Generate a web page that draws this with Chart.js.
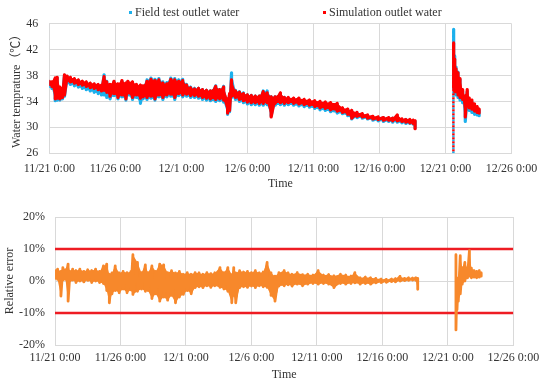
<!DOCTYPE html>
<html><head><meta charset="utf-8">
<script src="https://cdn.jsdelivr.net/npm/chart.js@4"></script>
<style>
html,body{margin:0;padding:0;background:#fff;}
#wrap{position:relative;width:550px;height:389px;overflow:hidden;background:#fff;}
canvas{position:absolute;left:0;}
#c1{top:0}
#c2{top:195px}
.lg{position:absolute;top:5px;font:12px 'Liberation Serif','Times New Roman',serif;color:#333;line-height:14px;white-space:nowrap}
.mk{position:absolute;width:3px;height:3px;top:11px}
</style></head>
<body><div id="wrap">
<canvas id="c1" width="550" height="195"></canvas>
<canvas id="c2" width="550" height="194"></canvas>
<div class="mk" style="left:129px;background:#1CB0EC"></div>
<div class="lg" style="left:135px">Field test outlet water</div>
<div class="mk" style="left:323px;background:#FF0000"></div>
<div class="lg" style="left:329px">Simulation outlet water</div>
</div>
<script>
// x-axis tick labels (one every 5 days from 11/21 0:00)
const timeTickLabels = ['11/21 0:00','11/26 0:00','12/1 0:00','12/6 0:00','12/11 0:00','12/16 0:00','12/21 0:00','12/26 0:00'];

// sample times, days after 11/21 0:00
const sampleDays = [0.0,0.2,0.45,0.6,0.8, 1.0,1.15,1.35,1.6,1.9, 2.2,2.5,2.8,3.1,3.4, 3.7,3.95,4.15,4.35,4.6,
  4.9,5.2,5.5,5.8,5.95, 6.3,6.6,6.9,7.1,7.4, 7.7,8.0,8.3,8.6,8.9, 9.2,9.5,9.8,10.1,10.4,
  10.7,11.0,11.3,11.6,11.9, 12.2,12.6,12.9,13.2,13.5, 13.65,13.8,14.1,14.4,14.7, 15.0,15.3,15.6,15.9,16.2,
  16.5,16.8,17.1,17.5,17.8, 18.1,18.5,18.9,19.3,19.7, 20.1,20.5,20.9,21.3,21.8, 22.2,22.6,22.9,23.3,23.7,
  24.1,24.5,24.9,25.3,25.7, 26.0,26.35,26.7,27.0,27.3, 27.55,27.7,
  30.62,30.7,30.8,30.95,31.1,31.3,31.5,31.65,31.8,32.0,32.2,32.4,32.55];

// Simulation outlet water (°C): upper / lower reading of the scatter at each sample time
const simHi = [37.1,37.0,37.6,37.7,36.2, 36.0,38.1,37.9,37.7,37.5, 37.3,37.1,37.0,36.8,36.7, 36.6,36.5,37.8,37.0,36.6,
  37.1,36.7,37.2,36.8,37.1, 37.0,36.6,36.5,36.4,37.1, 37.4,37.2,37.3,36.8,36.7, 37.4,37.3,37.1,37.2,36.5,
  36.1,35.9,36.0,35.8,35.7, 35.6,36.3,35.8,36.2,34.4, 35.2,37.3,35.6,35.4,35.2, 35.0,34.9,34.8,34.8,35.5,
  35.3,34.7,34.7,35.3,34.6, 34.6,34.5,34.5,34.3,34.2, 34.1,34.0,33.9,33.8,33.7, 33.0,32.8,32.6,32.3,32.1,
  31.9,31.7,31.6,31.5,31.5, 31.4,31.9,31.3,31.2,31.2, 31.1,31.0,
  43.0,40.5,39.0,38.4,37.5,35.8,34.8,35.8,34.5,34.2,33.6,33.2,32.8];
const simLo = [36.6,36.3,34.4,34.5,34.4, 34.6,35.0,37.1,37.0,36.8, 36.6,36.5,36.3,36.1,36.0, 35.8,35.6,35.7,35.4,34.8,
  35.2,34.6,35.0,34.4,35.3, 34.6,35.0,34.5,34.7,34.6, 34.8,34.4,35.0,34.6,35.0, 35.1,34.6,35.2,35.0,35.1,
  34.9,34.9,34.8,34.6,34.5, 34.4,34.3,34.4,34.2,32.2, 32.6,34.8,34.6,34.3,34.1, 33.9,33.8,33.8,33.7,33.7,
  33.8,31.6,33.7,33.8,33.7, 33.8,33.7,33.6,33.5,33.4, 33.2,33.0,32.9,32.7,32.5, 32.3,32.0,31.4,31.7,31.6,
  31.4,31.3,31.2,31.1,31.1, 31.0,31.0,30.9,30.8,30.7, 30.6,29.8,
  36.0,35.5,35.5,35.0,34.6,34.3,31.6,33.5,33.0,32.8,32.5,32.3,32.2];

// Field test outlet water (°C)
const fieldHi = [37.0,36.9,37.5,37.6,36.0, 35.8,38.0,37.8,37.6,37.4, 37.2,37.0,36.9,36.7,36.6, 36.5,36.4,38.1,37.1,36.5,
  37.0,36.6,37.1,36.7,37.0, 36.9,36.5,36.4,36.3,37.3, 37.6,37.4,37.5,37.0,36.9, 37.6,37.5,37.3,37.4,36.6,
  36.2,36.0,36.0,35.8,35.7, 35.6,36.4,35.8,36.3,34.3, 35.0,38.4,35.7,35.5,35.3, 35.0,34.9,34.8,34.8,35.6,
  35.6,34.7,34.7,35.2,34.6, 34.5,34.4,34.4,34.2,34.1, 34.0,33.9,33.8,33.7,33.6, 32.9,32.7,32.5,32.2,32.0,
  31.8,31.6,31.5,31.5,31.4, 31.4,31.8,31.2,31.2,31.1, 31.0,30.9,
  45.1,41.0,39.3,38.5,37.4,35.6,34.5,35.5,34.2,33.9,33.3,32.9,32.6];
const fieldLo = [36.3,36.0,34.1,34.2,34.2, 34.4,34.8,36.8,36.6,36.4, 36.2,36.0,35.8,35.6,35.4, 35.2,35.0,35.0,34.6,34.4,
  34.9,34.4,34.7,34.2,35.0, 34.3,34.6,33.7,34.4,34.3, 34.5,34.2,34.7,34.3,34.7, 34.8,34.3,34.9,34.7,34.8,
  34.6,34.6,34.5,34.3,34.2, 34.1,34.0,34.1,33.9,32.0, 32.4,34.6,34.3,34.0,33.8, 33.6,33.5,33.5,33.4,33.4,
  33.5,31.8,33.4,33.5,33.4, 33.5,33.4,33.3,33.2,33.1, 32.9,32.7,32.6,32.4,32.2, 32.1,31.8,31.3,31.5,31.4,
  31.3,31.1,31.0,30.9,30.9, 30.8,30.8,30.7,30.6,30.6, 30.5,29.9,
  36.0,35.2,35.0,34.6,34.2,33.8,30.9,33.0,32.6,32.3,32.0,31.9,31.8];

// restart on 12/21: readings rise from the axis floor to the peak
const restartDay = 30.6;
const simRestart = [26, 43.0];
const fieldRestart = [26, 45.1];

// Relative error (%)
const errHi = [3.2,3.7,3.0,4.2,3.5, 5.3,3.0,3.7,3.2,3.7, 3.0,3.5,3.2,3.7,3.0, 4.7,5.3,2.1,2.5,4.7,
  2.5,3.0,2.6,3.0,8.2, 5.8,2.6,5.0,2.6,4.7, 3.0,5.3,5.0,2.6,3.2, 2.5,3.0,2.1,2.6,2.1,
  2.6,2.5,2.1,2.6,2.3, 2.5,4.2,2.6,4.2,2.0, 4.2,2.5,3.2,2.8,3.0, 2.6,3.2,2.5,2.8,5.8,
  2.5,1.5,2.6,3.2,2.5, 2.1,2.6,2.0,2.1,1.8, 3.2,1.8,2.0,1.6,2.1, 1.8,1.5,2.6,1.0,1.2,
  1.0,0.8,0.6,0.5,0.6, 0.7,1.4,0.8,1.0,0.9, 1.0,0.8,
  8.2,0.0,1.0,7.9,4.2,5.8,4.0,9.5,4.0,3.2,3.0,3.2,2.5];
const errLo = [0.8,0.5,-4.7,0.3,0.5, -6.3,0.0,0.3,-0.5,0.0, -0.3,0.2,-0.5,0.0,-0.5, -0.8,-3.0,-6.8,-4.0,-3.0,
  -3.7,-2.5,-3.7,-2.8,-4.2, -3.2,-2.5,-3.2,-3.0,-5.5, -4.0,-6.3,-5.0,-6.0,-4.5, -6.8,-5.0,-4.2,-3.0,-4.0,
  -2.1,-1.8,-2.1,-1.5,-2.0, -1.5,-2.0,-2.5,-3.2,-6.8, -4.5,-6.8,-2.1,-1.8,-2.0, -1.6,-2.1,-1.5,-1.8,-2.0,
  -4.5,-6.3,-1.6,-1.5,-1.2, -1.6,-1.0,-1.5,-1.0,-0.8, -1.0,-0.8,-1.0,-2.1,-0.8, -1.0,-0.8,-0.6,-1.0,-0.8,
  -1.0,-0.6,-0.5,-0.4,-0.2, -0.3,0.0,0.1,0.2,0.3, 0.2,-2.6,
  -15.3,-9.0,-6.3,-4.0,-1.0,0.0,1.0,1.5,1.0,1.2,1.0,1.2,1.5];

// ±10% reference lines
const limitDays = [0, 35];
const upperLimit = 10;
const lowerLimit = -10;

const FONT = "'Liberation Serif','Times New Roman','Noto Sans CJK SC',serif";
Chart.defaults.font.family = FONT;
Chart.defaults.font.size = 12;
Chart.defaults.color = '#333';

function withGaps(days, vals) {
  const pts = [];
  for (let i = 0; i < days.length; i++) {
    if (i > 0 && days[i] - days[i - 1] > 1) pts.push({x: (days[i] + days[i - 1]) / 2, y: null});
    pts.push({x: days[i], y: vals[i]});
  }
  return pts;
}
function zigzag(days, hi, lo) {
  const pts = [];
  for (let i = 0; i < days.length; i++) {
    if (i > 0 && days[i] - days[i - 1] > 1) pts.push({x: (days[i] + days[i - 1]) / 2, y: null});
    pts.push({x: days[i], y: hi[i]}, {x: days[i], y: lo[i]});
  }
  return pts;
}
const vertical = (day, vals) => vals.map(v => ({x: day, y: v}));
const limitLine = v => limitDays.map(d => ({x: d, y: v}));

const GRID = '#D9D9D9';
function xScale(axisH, labelPad, titlePadB) {
  return {
    type: 'linear', min: 0, max: 35,
    afterFit: s => { s.height = axisH; },
    ticks: {stepSize: 5, padding: labelPad, autoSkip: false, maxRotation: 0,
      callback: v => timeTickLabels[Math.round(v / 5)]},
    grid: {color: GRID, drawTicks: false},
    border: {color: GRID},
    title: {display: true, text: 'Time', padding: {top: 0, bottom: titlePadB}}
  };
}
const zz = (color, w) => ({borderColor: color, backgroundColor: color, borderWidth: w, pointRadius: 0,
  borderJoinStyle: 'round', borderCapStyle: 'round', spanGaps: false, fill: false});
// a series drawn as its scatter: filled band between readings plus the jagged trace
function seriesSets(days, hi, lo, color, w) {
  return [
    Object.assign({data: zigzag(days, hi, lo)}, zz(color, w)),
    {data: withGaps(days, hi), borderWidth: 0, pointRadius: 0, backgroundColor: color, fill: '+1', spanGaps: false},
    {data: withGaps(days, lo), borderWidth: 0, pointRadius: 0, fill: false, spanGaps: false}
  ];
}

new Chart(document.getElementById('c1'), {
  type: 'line',
  data: {datasets: [
    ...seriesSets(sampleDays, simHi, simLo, '#FF0000', 3.2),
    {data: vertical(restartDay, simRestart), borderColor: '#FF0000', borderWidth: 2.5, borderDash: [2, 2], borderDashOffset: 2, pointRadius: 0},
    ...seriesSets(sampleDays, fieldHi, fieldLo, '#1CB0EC', 3.2),
    {data: vertical(restartDay, fieldRestart), borderColor: '#1CB0EC', borderWidth: 2.5, borderDash: [2, 2], pointRadius: 0}
  ]},
  options: {
    responsive: false, animation: false, devicePixelRatio: 1,
    layout: {padding: {left: 0, right: 38.5, top: 23.5, bottom: 0}},
    plugins: {legend: {display: false}, tooltip: {enabled: false}},
    scales: {
      x: xScale(41.7, 8.3, 4.3),
      y: {
        min: 26, max: 46,
        afterFit: s => { s.width = 49.3; },
        ticks: {stepSize: 4, padding: 11},
        grid: {color: GRID, drawTicks: false},
        border: {color: GRID},
        title: {display: true, text: 'Water temprature（℃）', padding: {top: 9.5, bottom: 0}}
      }
    }
  }
});

new Chart(document.getElementById('c2'), {
  type: 'line',
  data: {datasets: [
    ...seriesSets(sampleDays, errHi, errLo, '#F7882B', 2.8),
    {data: limitLine(upperLimit), borderColor: '#EE1C23', borderWidth: 2.5, pointRadius: 0},
    {data: limitLine(lowerLimit), borderColor: '#EE1C23', borderWidth: 2.5, pointRadius: 0}
  ]},
  options: {
    responsive: false, animation: false, devicePixelRatio: 1,
    layout: {padding: {left: 0, right: 36.7, top: 22, bottom: 0}},
    plugins: {legend: {display: false}, tooltip: {enabled: false}},
    scales: {
      x: xScale(44, 6.1, 6.8),
      y: {
        min: -20, max: 20,
        afterFit: s => { s.width = 55; },
        ticks: {stepSize: 10, padding: 10, callback: v => v + '%'},
        grid: {color: GRID, drawTicks: false},
        border: {color: GRID},
        title: {display: true, text: 'Relative error', padding: {top: 2.8, bottom: 0}}
      }
    }
  }
});
</script>
</body></html>
